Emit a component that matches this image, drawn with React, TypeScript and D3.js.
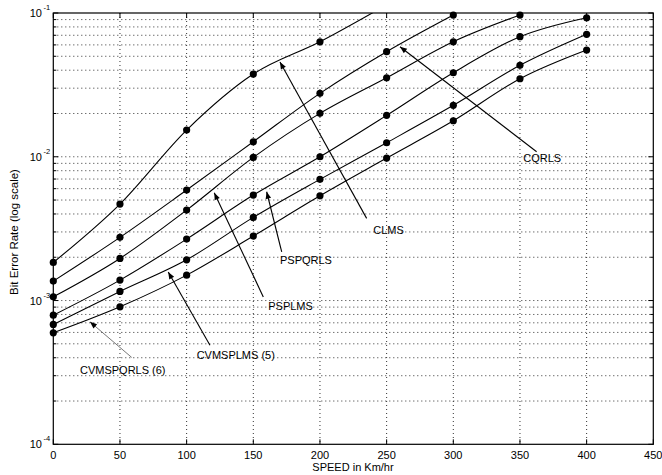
import React from "react";
import * as d3 from "d3";

const speeds = [0, 50, 100, 150, 200, 250, 300, 350, 400];
const clms = [0.00184, 0.00469, 0.01534, 0.0376, 0.0631, 0.114];
const cqrls = [0.001365, 0.00275, 0.00587, 0.01272, 0.02762, 0.0538, 0.0968];
const psplms = [0.001061, 0.001963, 0.004258, 0.0099, 0.02004, 0.03546, 0.0631, 0.0968];
const pspqrls = [0.000791, 0.001387, 0.002675, 0.005414, 0.01, 0.01941, 0.03842, 0.0684, 0.0927];
const cvmsplms = [0.000682, 0.001157, 0.00192, 0.003787, 0.006963, 0.01252, 0.02279, 0.04325, 0.0711];
const cvmspqrls = [0.000596, 0.000904, 0.001502, 0.002807, 0.005353, 0.00979, 0.0178, 0.0349, 0.0553];
const seriesList = [clms, cqrls, psplms, pspqrls, cvmsplms, cvmspqrls];

const xTicks = [0, 50, 100, 150, 200, 250, 300, 350, 400, 450];
const yDecades = [-4, -3, -2, -1];

// annotation: label, label anchor (data), arrow tail (data), arrow tip (data)
const annotations = [
  { text: "CQRLS", lx: 352.5, ly: 0.00975, tx: 362.5, ty: 0.01083, hx: 260, hy: 0.0583, gray: false },
  { text: "CLMS", lx: 240, ly: 0.00309, tx: 235, ty: 0.003727, hx: 170, hy: 0.0456, gray: false },
  { text: "PSPQRLS", lx: 170, ly: 0.00191, tx: 171.3, ty: 0.00218, hx: 160, hy: 0.00571, gray: false },
  { text: "PSPLMS", lx: 161.2, ly: 0.000914, tx: 157.5, ty: 0.00106, hx: 120.7, hy: 0.00562, gray: false },
  { text: "CVMSPLMS (5)", lx: 107.5, ly: 0.000417, tx: 117.5, ty: 0.000489, hx: 86.2, hy: 0.00158, gray: false },
  { text: "CVMSPQRLS (6)", lx: 20, ly: 0.000328, tx: 58.8, ty: 0.000402, hx: 27.5, hy: 0.000711, gray: true },
];

export default function App() {
  const W = 662, H = 475;
  const L = 53.3, R = 653.3, T = 13, B = 444.3;
  const x = d3.scaleLinear().domain([0, 450]).range([L, R]);
  const y = d3.scaleLog().domain([1e-4, 1e-1]).range([B, T]);
  const font = "'Liberation Sans', Arial, sans-serif";

  const minorVals: number[] = [];
  for (let e = -4; e < -1; e++) for (let k = 1; k <= 9; k++) minorVals.push(k * Math.pow(10, e));
  minorVals.push(0.1);

  const line = d3
    .line<[number, number]>()
    .x((d) => x(d[0]))
    .y((d) => y(d[1]))
    .curve(d3.curveMonotoneX);

  const arrowHead = (tx: number, ty: number, hx: number, hy: number) => {
    const ang = Math.atan2(hy - ty, hx - tx);
    const len = 7, wid = 2.8;
    const bx = hx - len * Math.cos(ang), by = hy - len * Math.sin(ang);
    const px = -Math.sin(ang) * wid, py = Math.cos(ang) * wid;
    return `M${hx},${hy}L${bx + px},${by + py}L${bx - px},${by - py}Z`;
  };

  return (
    <svg width={W} height={H} style={{ position: "absolute", left: 0, top: 0, background: "#fff" }} fontFamily={font}>
      <defs>
        <clipPath id="plot">
          <rect x={L} y={T} width={R - L} height={B - T} />
        </clipPath>
      </defs>
      {/* grid */}
      <g stroke="#333" strokeWidth={1} strokeDasharray="1,3">
        {xTicks.filter((t) => t > 0 && t < 450).map((t) => (
          <line key={"gx" + t} x1={x(t)} x2={x(t)} y1={T} y2={B} />
        ))}
        {minorVals.filter((v) => v > 1.0001e-4 && v < 0.0999).map((v) => (
          <line key={"gy" + v} x1={L} x2={R} y1={y(v)} y2={y(v)} />
        ))}
      </g>
      {/* ticks */}
      <g stroke="#000" strokeWidth={1}>
        {xTicks.map((t) => (
          <g key={"tx" + t}>
            <line x1={x(t)} x2={x(t)} y1={B} y2={B - 5} />
            <line x1={x(t)} x2={x(t)} y1={T} y2={T + 5} />
          </g>
        ))}
        {minorVals.map((v) => {
          const major = Math.abs(Math.log10(v) - Math.round(Math.log10(v))) < 1e-6;
          const len = major ? 5 : 3;
          return (
            <g key={"ty" + v}>
              <line x1={L} x2={L + len} y1={y(v)} y2={y(v)} />
              <line x1={R} x2={R - len} y1={y(v)} y2={y(v)} />
            </g>
          );
        })}
      </g>
      {/* curves */}
      <g clipPath="url(#plot)" fill="none" stroke="#000" strokeWidth={1.1}>
        {seriesList.map((s, i) => (
          <path key={"c" + i} d={line(s.map((v, j) => [speeds[j], v] as [number, number])) || ""} />
        ))}
      </g>
      <g fill="#000">
        {seriesList.map((s, i) =>
          s.map((v, j) =>
            v <= 0.1 ? <circle key={`m${i}-${j}`} cx={x(speeds[j])} cy={y(v)} r={3.6} /> : null
          )
        )}
      </g>
      {/* frame */}
      <rect x={L} y={T} width={R - L} height={B - T} fill="none" stroke="#000" strokeWidth={1.2} />
      {/* x tick labels */}
      <g fontSize={11} textAnchor="middle" fill="#000">
        {xTicks.map((t) => (
          <text key={"lx" + t} x={x(t)} y={459}>{t}</text>
        ))}
      </g>
      {/* y tick labels */}
      <g fill="#000">
        {yDecades.map((e) => (
          <g key={"ly" + e}>
            <text x={42} y={y(Math.pow(10, e)) + 4} fontSize={11} textAnchor="end">10</text>
            <text x={43.5} y={y(Math.pow(10, e)) - 3} fontSize={7.5} textAnchor="start">{e}</text>
          </g>
        ))}
      </g>
      {/* axis labels */}
      <text x={353} y={471} fontSize={11} textAnchor="middle" fill="#000">SPEED in Km/hr</text>
      <text transform={`translate(18,232) rotate(-90)`} fontSize={11.5} textAnchor="middle" fill="#000">
        Bit Error Rate (log scale)
      </text>
      {/* annotations */}
      {annotations.map((a) => {
        const col = a.gray ? "#555" : "#000";
        const tx = x(a.tx), ty = y(a.ty), hx = x(a.hx), hy = y(a.hy);
        return (
          <g key={a.text}>
            <line x1={tx} y1={ty} x2={hx} y2={hy} stroke={col} strokeWidth={a.gray ? 0.8 : 1.1} />
            <path d={arrowHead(tx, ty, hx, hy)} fill="#000" />
            <text x={x(a.lx)} y={y(a.ly) + 4} fontSize={11} fill="#000">{a.text}</text>
          </g>
        );
      })}
    </svg>
  );
}
